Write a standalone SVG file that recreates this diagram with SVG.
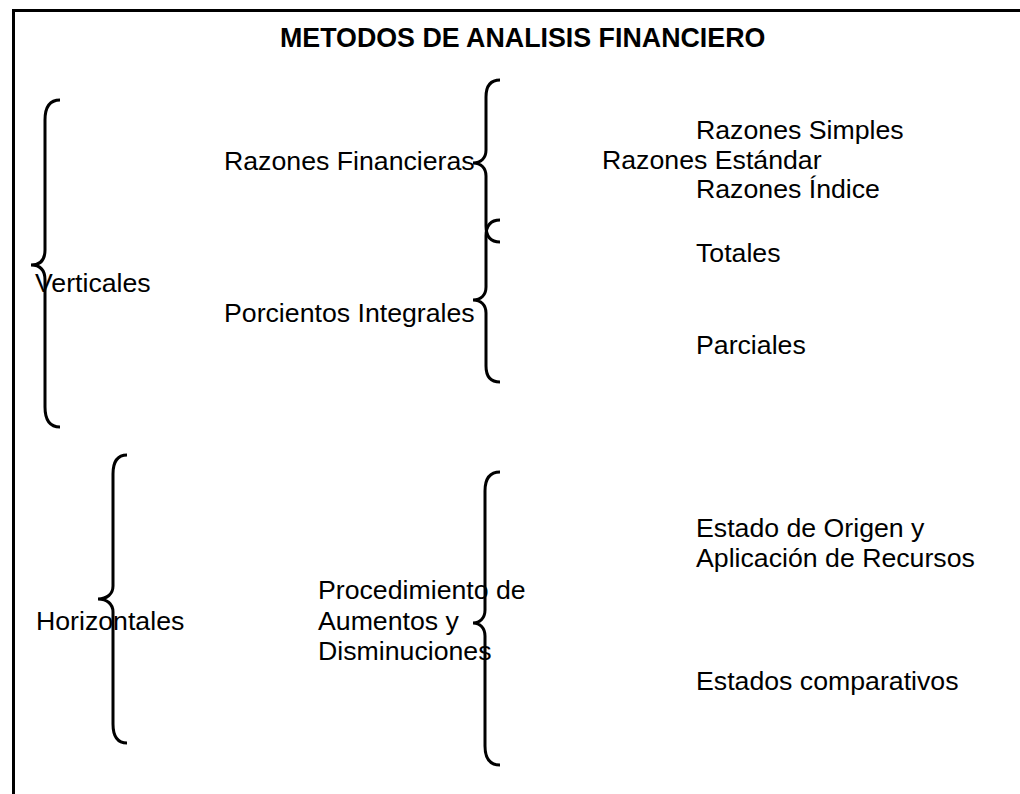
<svg xmlns="http://www.w3.org/2000/svg" width="1020" height="794" viewBox="0 0 1020 794">
<style>
  text { font-family: "Liberation Sans", Arial, sans-serif; font-size: 26.7px; fill: #000; }
  .title { font-weight: bold; font-size: 26.8px; }
  .brace { fill: none; stroke: #000; stroke-width: 3; stroke-linecap: butt; }
  .frame { fill: none; stroke: #000; stroke-width: 3; }
</style>
<rect width="1020" height="794" fill="#fff"/>
<rect class="frame" x="13.5" y="10.5" width="1030" height="800"/>
<g id="title"><text class="title" x="280" y="47">METODOS DE ANALISIS FINANCIERO</text></g>

<g id="connectors">
  <path class="brace" d="M60,100 C50,100 45,106 45,120 L45,250 C45,260 40,265 31,265 C40,265 45,270 45,280 L45,407 C45,421 50,427 60,427"/>
  <path class="brace" d="M500,80 C491,80 486,85 486,97 L486,150 C486,158 481,163 473,163 C481,163 486,168 486,176 L486,226 C486,237 491,242 500,242"/>
  <path class="brace" d="M500,220 C491,220 486,225 486,236 L486,287 C486,295 481,300 473,300 C481,300 486,305 486,313 L486,366 C486,377 491,382 500,382"/>
  <path class="brace" d="M127,455 C118,455 113,461 113,474 L113,586 C113,594 107,599 98,599 C107,599 113,604 113,612 L113,724 C113,737 118,743 127,743"/>
  <path class="brace" d="M500,472 C490,472 485,478 485,491 L485,610 C485,618 480,623 473,623 C480,623 485,628 485,636 L485,746 C485,759 490,765 500,765"/>
</g>

<g id="verticales"><text x="35" y="292">Verticales</text></g>
<g id="razones-financieras"><text x="224" y="170">Razones Financieras</text></g>
<g id="porcientos-integrales"><text x="224" y="322">Porcientos Integrales</text></g>
<g id="razones-simples"><text x="696" y="139">Razones Simples</text></g>
<g id="razones-estandar"><text x="602" y="169">Razones Estándar</text></g>
<g id="razones-indice"><text x="696" y="198">Razones Índice</text></g>
<g id="totales"><text x="696" y="262">Totales</text></g>
<g id="parciales"><text x="696" y="354">Parciales</text></g>
<g id="horizontales"><text x="36" y="630">Horizontales</text></g>
<g id="procedimiento">
  <text x="318" y="599">Procedimiento de</text>
  <text x="318" y="630">Aumentos y</text>
  <text x="318" y="660">Disminuciones</text>
</g>
<g id="estado-origen">
  <text x="696" y="537">Estado de Origen y</text>
  <text x="696" y="567">Aplicación de Recursos</text>
</g>
<g id="estados-comparativos"><text x="696" y="690">Estados comparativos</text></g>
</svg>
